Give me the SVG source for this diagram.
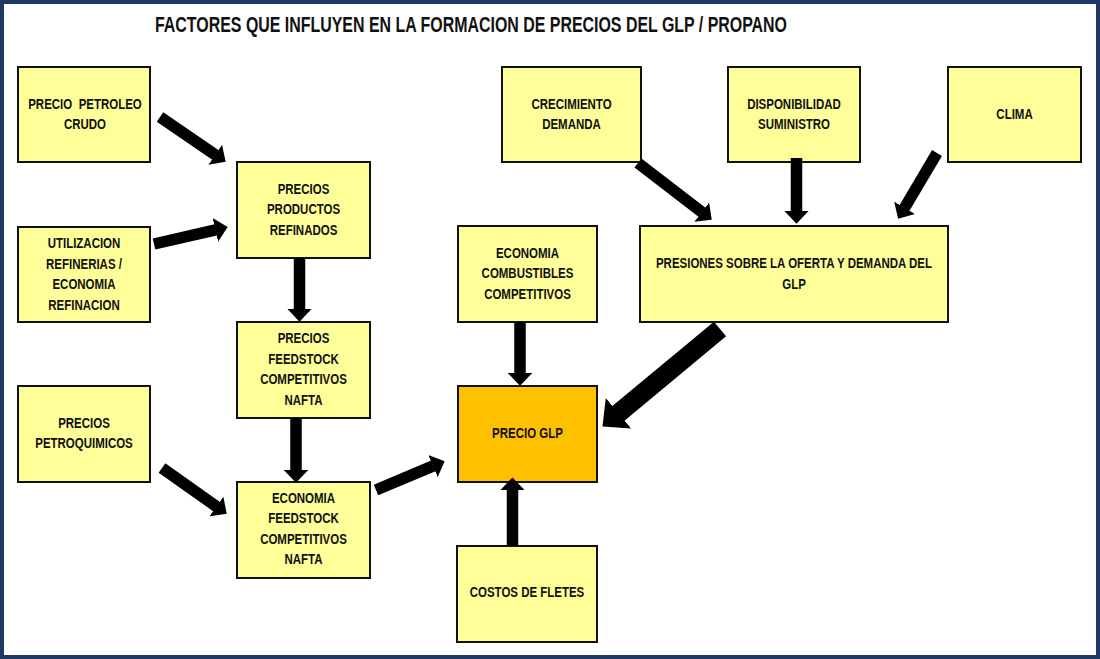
<svg xmlns="http://www.w3.org/2000/svg" width="1100" height="659" viewBox="0 0 1100 659">
<style>
.box{fill:#FFFF99;stroke:#111;stroke-width:2}
.glp{fill:#FFC000;stroke:#111;stroke-width:2}
.t{font-family:"Liberation Sans",Arial,sans-serif;font-weight:bold;font-size:14px;fill:#111;text-anchor:middle}
.title{font-family:"Liberation Sans",Arial,sans-serif;font-weight:bold;font-size:22px;fill:#111}
.ar{stroke:#000;fill:none;stroke-linecap:butt;marker-end:url(#head)}
</style>
<defs>
<marker id="head" markerUnits="strokeWidth" viewBox="0 0 11 21" markerWidth="1.1" markerHeight="2.1" refX="0.3" refY="10.5" orient="auto">
<path d="M0,0 L11,10.5 L0,21 Z" fill="#000"/>
</marker>
</defs>
<rect x="0" y="0" width="1100" height="659" fill="#fff"/>
<rect x="2" y="2" width="1096" height="655" fill="none" stroke="#1F3864" stroke-width="4"/>
<text class="title" x="155" y="32" textLength="632" lengthAdjust="spacingAndGlyphs">FACTORES QUE INFLUYEN EN LA FORMACION DE PRECIOS DEL GLP / PROPANO</text>

<g id="n-crudo">
<rect class="box" x="18" y="67" width="132" height="95"/>
<text class="t" transform="translate(85 0) scale(0.82 1)"><tspan x="0" y="108.8" word-spacing="4">PRECIO PETROLEO</tspan><tspan x="0" y="129.3">CRUDO</tspan></text>
</g>
<g id="n-utilizacion">
<rect class="box" x="18" y="227" width="132" height="95"/>
<text class="t" transform="translate(84 0) scale(0.82 1)"><tspan x="0" y="248.3">UTILIZACION</tspan><tspan x="0" y="268.8">REFINERIAS /</tspan><tspan x="0" y="289.3">ECONOMIA</tspan><tspan x="0" y="309.8">REFINACION</tspan></text>
</g>
<g id="n-refinados">
<rect class="box" x="237" y="162" width="133" height="96"/>
<text class="t" transform="translate(303.5 0) scale(0.82 1)"><tspan x="0" y="194">PRECIOS</tspan><tspan x="0" y="214.5">PRODUCTOS</tspan><tspan x="0" y="235">REFINADOS</tspan></text>
</g>
<g id="n-feedstock">
<rect class="box" x="237" y="322" width="133" height="96"/>
<text class="t" transform="translate(303.5 0) scale(0.82 1)"><tspan x="0" y="343.5">PRECIOS</tspan><tspan x="0" y="364">FEEDSTOCK</tspan><tspan x="0" y="384.5">COMPETITIVOS</tspan><tspan x="0" y="405">NAFTA</tspan></text>
</g>
<g id="n-petroquimicos">
<rect class="box" x="18" y="386" width="132" height="96"/>
<text class="t" transform="translate(84 0) scale(0.82 1)"><tspan x="0" y="428">PRECIOS</tspan><tspan x="0" y="448.5">PETROQUIMICOS</tspan></text>
</g>
<g id="n-eco-feedstock">
<rect class="box" x="237" y="482" width="133" height="96"/>
<text class="t" transform="translate(303.5 0) scale(0.82 1)"><tspan x="0" y="503">ECONOMIA</tspan><tspan x="0" y="523.5">FEEDSTOCK</tspan><tspan x="0" y="544">COMPETITIVOS</tspan><tspan x="0" y="564.5">NAFTA</tspan></text>
</g>
<g id="n-eco-combustibles">
<rect class="box" x="458" y="226" width="139" height="96"/>
<text class="t" transform="translate(527.5 0) scale(0.82 1)"><tspan x="0" y="258">ECONOMIA</tspan><tspan x="0" y="278.5">COMBUSTIBLES</tspan><tspan x="0" y="299">COMPETITIVOS</tspan></text>
</g>
<g id="n-precio-glp">
<rect class="glp" x="458" y="386" width="139" height="96"/>
<text class="t" transform="translate(527.5 0) scale(0.82 1)"><tspan x="0" y="438.5">PRECIO GLP</tspan></text>
</g>
<g id="n-fletes">
<rect class="box" x="457" y="546" width="140" height="96"/>
<text class="t" transform="translate(527 0) scale(0.82 1)"><tspan x="0" y="597.5">COSTOS DE FLETES</tspan></text>
</g>
<g id="n-crecimiento">
<rect class="box" x="502" y="67" width="139" height="95"/>
<text class="t" transform="translate(571.5 0) scale(0.82 1)"><tspan x="0" y="108.8">CRECIMIENTO</tspan><tspan x="0" y="129.3">DEMANDA</tspan></text>
</g>
<g id="n-disponibilidad">
<rect class="box" x="728" y="67" width="132" height="95"/>
<text class="t" transform="translate(794 0) scale(0.82 1)"><tspan x="0" y="108.8">DISPONIBILIDAD</tspan><tspan x="0" y="129.3">SUMINISTRO</tspan></text>
</g>
<g id="n-clima">
<rect class="box" x="948" y="67" width="133" height="95"/>
<text class="t" transform="translate(1014.5 0) scale(0.82 1)"><tspan x="0" y="119">CLIMA</tspan></text>
</g>
<g id="n-presiones">
<rect class="box" x="640" y="226" width="308" height="96"/>
<text class="t" transform="translate(794 0) scale(0.82 1)"><tspan x="0" y="268.3">PRESIONES SOBRE LA OFERTA Y DEMANDA DEL</tspan><tspan x="0" y="288.8">GLP</tspan></text>
</g>

<g id="connectors">
<line class="ar" stroke-width="11.5" x1="160" y1="117" x2="215.5" y2="154.9"/>
<line class="ar" stroke-width="11.5" x1="154" y1="244" x2="215.7" y2="229.8"/>
<line class="ar" stroke-width="11.5" x1="299.5" y1="258" x2="299.5" y2="309.4"/>
<line class="ar" stroke-width="11.5" x1="296" y1="418" x2="296" y2="470.4"/>
<line class="ar" stroke-width="11.5" x1="162" y1="468" x2="216.7" y2="506.7"/>
<line class="ar" stroke-width="11.5" x1="376" y1="490" x2="433.3" y2="465.9"/>
<line class="ar" stroke-width="11.5" x1="520" y1="322" x2="520" y2="373.4"/>
<line class="ar" stroke-width="11.5" x1="512.5" y1="546" x2="512.5" y2="489.7"/>
<line class="ar" stroke-width="11.5" x1="638" y1="163" x2="702" y2="212.3"/>
<line class="ar" stroke-width="11.5" x1="796.5" y1="158" x2="796.5" y2="211.4"/>
<line class="ar" stroke-width="11.5" x1="937" y1="153" x2="904.4" y2="208.1"/>
<line class="ar" stroke-width="19" x1="720" y1="329" x2="618.1" y2="413.6"/>
</g>
</svg>
